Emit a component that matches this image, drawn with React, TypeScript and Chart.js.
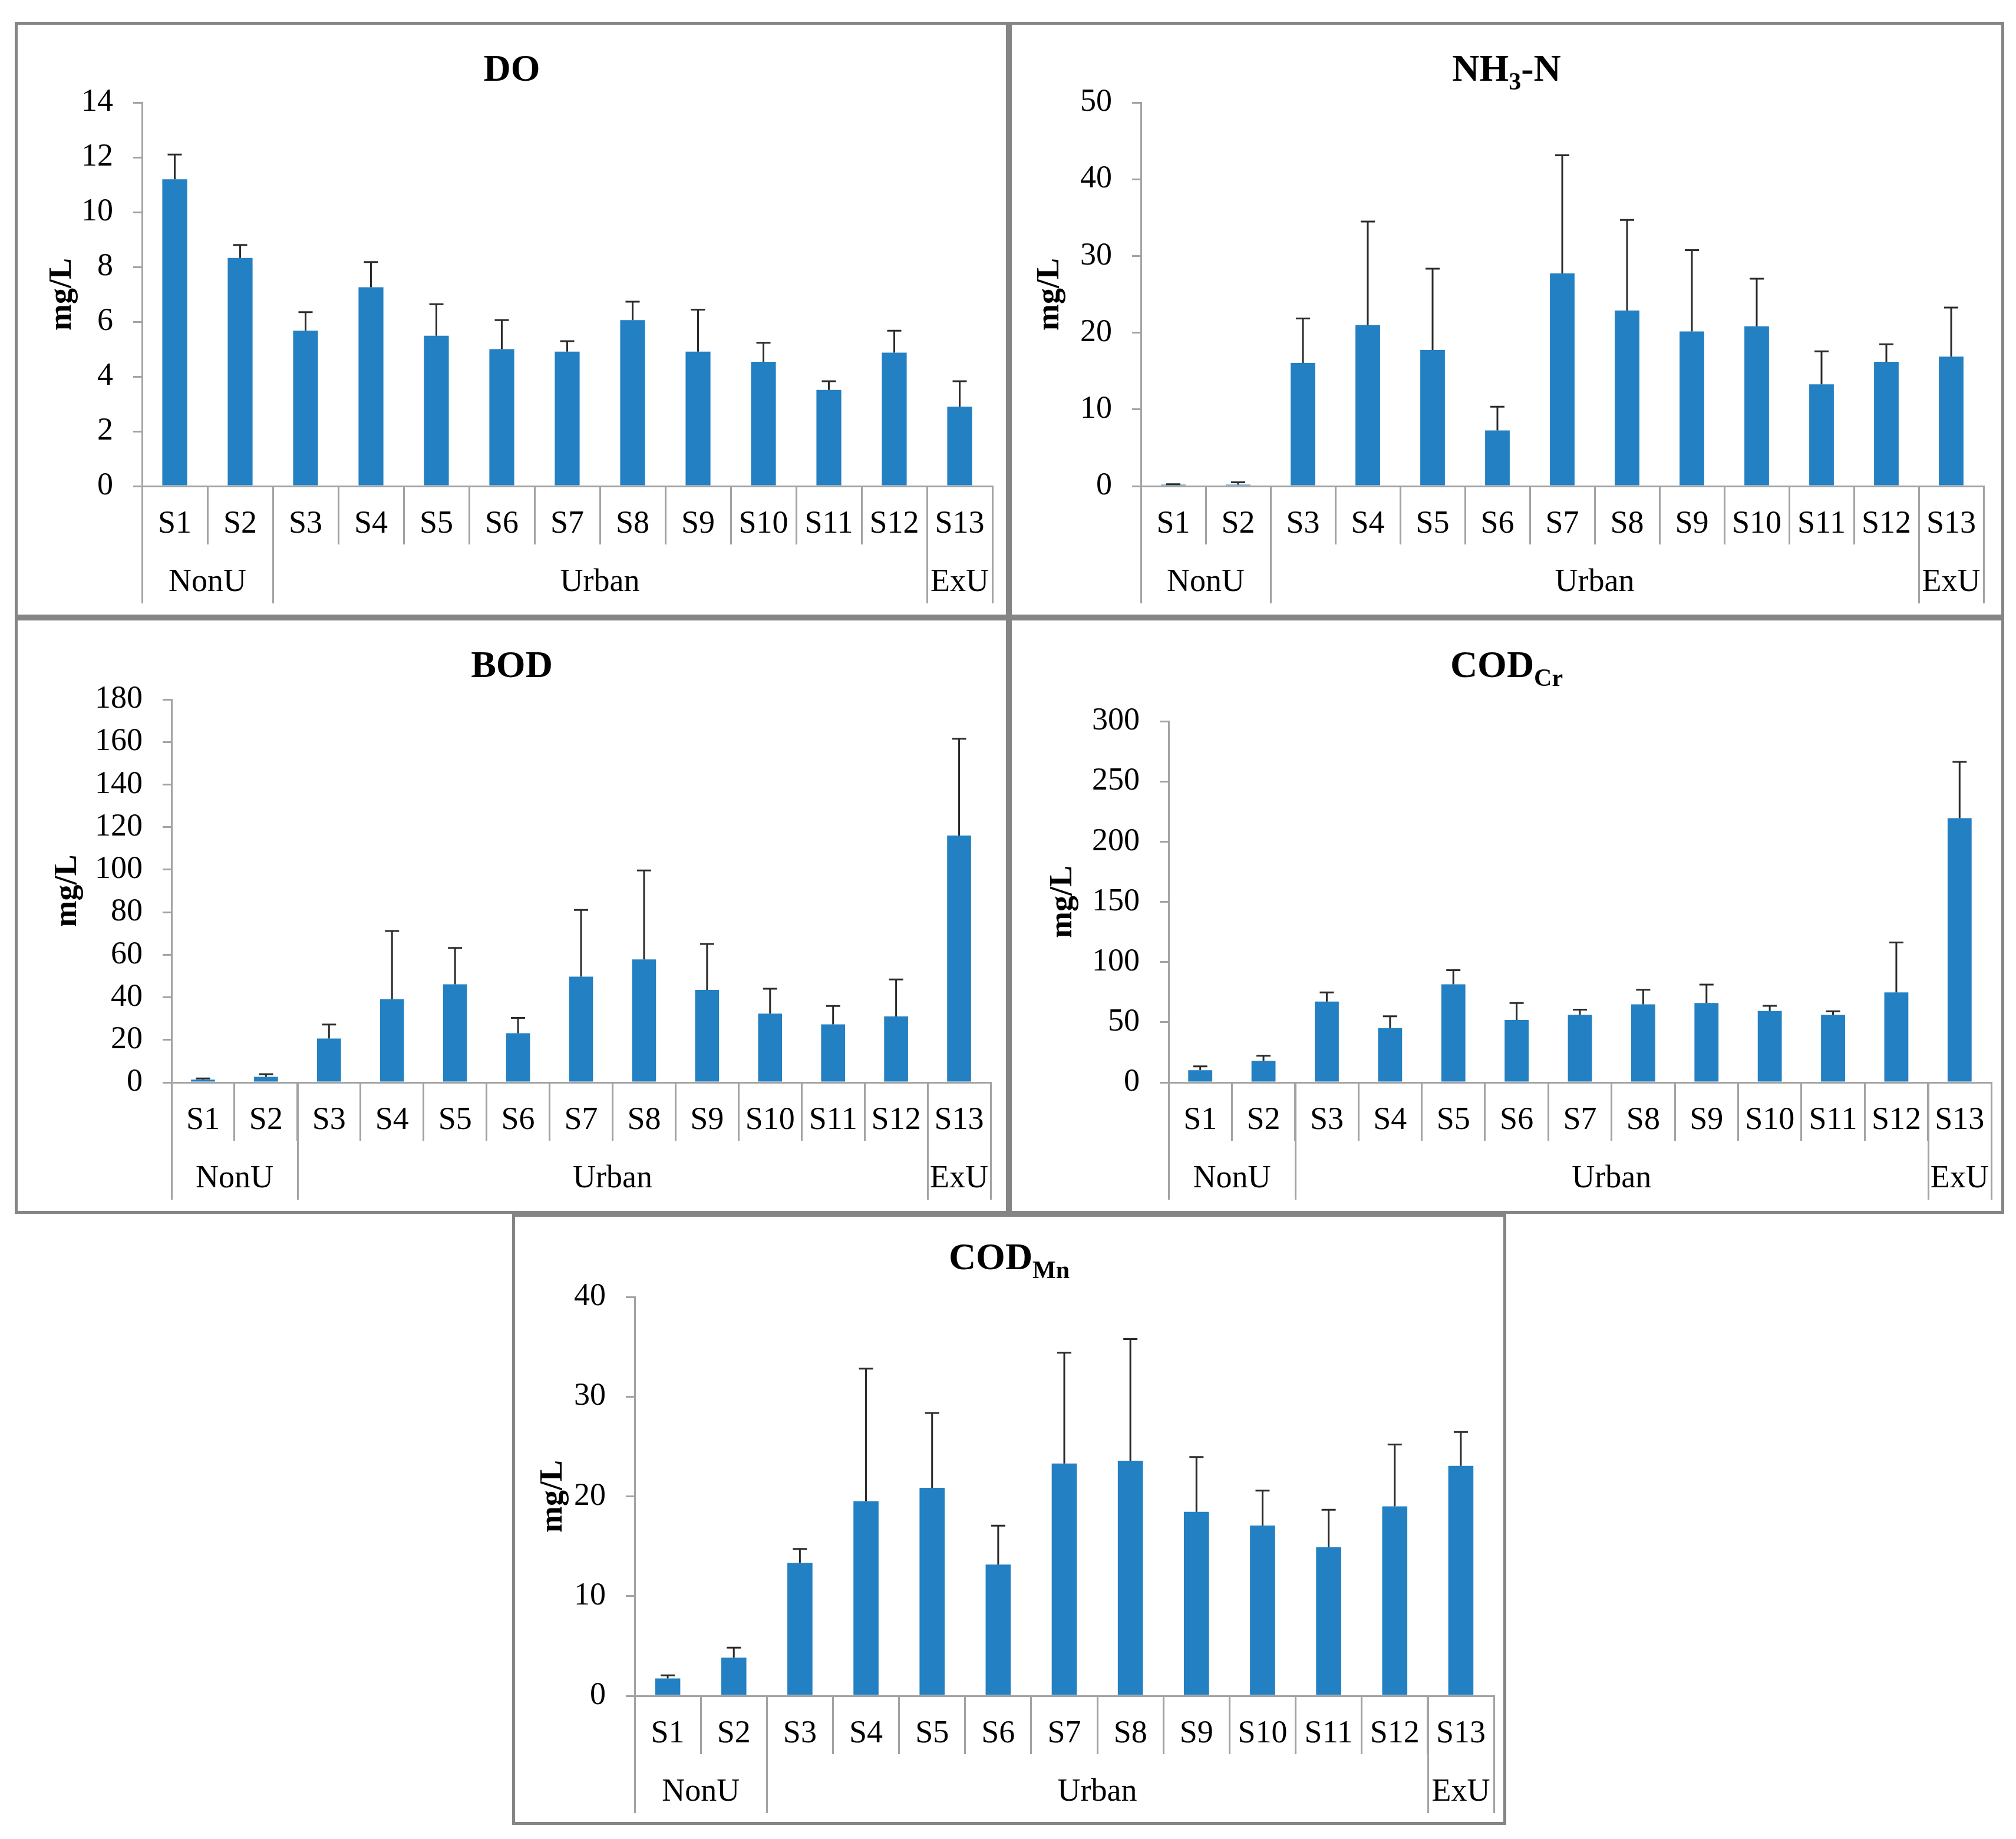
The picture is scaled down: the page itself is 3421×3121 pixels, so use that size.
import React, { useEffect, useRef } from 'react';
import { Chart, registerables } from 'chart.js';

Chart.register(...registerables);

// ---------------- DATA ----------------
const sites = ['S1', 'S2', 'S3', 'S4', 'S5', 'S6', 'S7', 'S8', 'S9', 'S10', 'S11', 'S12', 'S13'];
const zoneNames = ['NonU', 'Urban', 'ExU'];
const zoneSizes = [2, 10, 1];

const doMean = [11.2, 8.33, 5.67, 7.26, 5.49, 5.0, 4.91, 6.06, 4.91, 4.54, 3.51, 4.87, 2.9];
const doSd = [0.9, 0.47, 0.68, 0.92, 1.15, 1.06, 0.38, 0.67, 1.53, 0.69, 0.32, 0.8, 0.93];

const nh3Mean = [0.2, 0.2, 16.05, 20.99, 17.75, 7.25, 27.73, 22.89, 20.16, 20.83, 13.27, 16.2, 16.87];
const nh3Sd = [0.05, 0.3, 5.8, 13.5, 10.6, 3.1, 15.4, 11.8, 10.6, 6.2, 4.3, 2.3, 6.4];

const bodMean = [1.3, 2.6, 20.6, 39.1, 46.1, 23.1, 49.7, 57.8, 43.5, 32.3, 27.3, 31.0, 116.0];
const bodSd = [0.6, 1.3, 6.6, 32.1, 17.1, 7.2, 31.4, 41.8, 21.6, 11.7, 8.6, 17.4, 45.5];

const codCrMean = [10.1, 17.9, 67.2, 45.1, 81.5, 51.9, 56.2, 64.9, 65.9, 59.4, 56.2, 74.7, 219.5];
const codCrSd = [3.2, 4.2, 7.5, 9.8, 11.7, 14.0, 4.2, 12.0, 15.3, 4.2, 2.9, 41.5, 46.7];

const codMnMean = [1.75, 3.83, 13.32, 19.51, 20.86, 13.16, 23.3, 23.58, 18.45, 17.07, 14.9, 19.0, 23.06];
const codMnSd = [0.3, 1.0, 1.4, 13.3, 7.5, 3.9, 11.1, 12.2, 5.5, 3.5, 3.75, 6.2, 3.4];

// axis ranges [max, step]
const doAxis = [14, 2];
const nh3Axis = [50, 10];
const bodAxis = [180, 20];
const codCrAxis = [300, 50];
const codMnAxis = [40, 10];

// titles: [text, isSubscript]
const doTitle: [string, boolean][] = [['DO', false]];
const nh3Title: [string, boolean][] = [['NH', false], ['3', true], ['-N', false]];
const bodTitle: [string, boolean][] = [['BOD', false]];
const codCrTitle: [string, boolean][] = [['COD', false], ['Cr', true]];
const codMnTitle: [string, boolean][] = [['COD', false], ['Mn', true]];

const yTitleText = 'mg/L';

// ---------------- STYLE / LAYOUT ----------------
const FONT = '"Liberation Serif", "Times New Roman", serif';
const AXIS = '#a3a3a3';
const BAR = '#2380c2';
const ERR = '#2b2b2b';
const FRAME = '#858585';
const TICK_SIZE = 54;
const CAT_LINE = 99;
const ZONE_LINE = 199;
const CAT_LABEL_Y = 65;
const ZONE_LABEL_Y = 164;

type PanelCfg = {
  left: number; top: number; width: number; height: number;
  area: { l: number; t: number; r: number; b: number };
  titleY: number; yTitleX: number;
  title: [string, boolean][];
  mean: number[]; sd: number[]; axis: number[];
};

const panels: PanelCfg[] = [
  { left: 25, top: 37, width: 1687, height: 1011, area: { l: 211, t: 132, r: 1654, b: 783 }, titleY: 95, yTitleX: 76, title: doTitle, mean: doMean, sd: doSd, axis: doAxis },
  { left: 1712, top: 37, width: 1689, height: 1011, area: { l: 219, t: 132, r: 1649, b: 783 }, titleY: 95, yTitleX: 65, title: nh3Title, mean: nh3Mean, sd: nh3Sd, axis: nh3Axis },
  { left: 25, top: 1048, width: 1687, height: 1012, area: { l: 261, t: 134, r: 1651, b: 784 }, titleY: 96, yTitleX: 85, title: bodTitle, mean: bodMean, sd: bodSd, axis: bodAxis },
  { left: 1712, top: 1048, width: 1689, height: 1012, area: { l: 266, t: 171, r: 1662, b: 784 }, titleY: 96, yTitleX: 87, title: codCrTitle, mean: codCrMean, sd: codCrSd, axis: codCrAxis },
  { left: 869, top: 2060, width: 1687, height: 1037, area: { l: 203, t: 136, r: 1661, b: 813 }, titleY: 89, yTitleX: 65, title: codMnTitle, mean: codMnMean, sd: codMnSd, axis: codMnAxis },
];

function Panel({ p }: { p: PanelCfg }) {
  const ref = useRef<HTMLCanvasElement>(null);
  const cw = p.width - 10;
  const ch = p.height - 10;

  useEffect(() => {
    const titlePlugin = {
      id: 'subTitle',
      afterDraw(chart: any) {
        const ctx = chart.ctx;
        ctx.save();
        const mainFont = `bold 64px ${FONT}`;
        const subFont = `bold 42px ${FONT}`;
        let total = 0;
        const widths = p.title.map(([t, s]) => {
          ctx.font = s ? subFont : mainFont;
          const w = ctx.measureText(t).width;
          total += w;
          return w;
        });
        let x = chart.width / 2 - total / 2;
        ctx.fillStyle = '#000';
        ctx.textBaseline = 'alphabetic';
        ctx.textAlign = 'left';
        p.title.forEach(([t, s], i) => {
          ctx.font = s ? subFont : mainFont;
          ctx.fillText(t, x, p.titleY + (s ? 15 : 0));
          x += widths[i];
        });
        ctx.restore();
      },
    };

    const errPlugin = {
      id: 'errBars',
      afterDatasetsDraw(chart: any) {
        const ctx = chart.ctx;
        const yScale = chart.scales.y;
        const meta = chart.getDatasetMeta(0);
        ctx.save();
        ctx.strokeStyle = ERR;
        ctx.lineWidth = 3;
        meta.data.forEach((bar: any, i: number) => {
          const top = yScale.getPixelForValue(p.mean[i] + p.sd[i]);
          ctx.beginPath();
          ctx.moveTo(bar.x, bar.y);
          ctx.lineTo(bar.x, top);
          ctx.moveTo(bar.x - 12, top);
          ctx.lineTo(bar.x + 12, top);
          ctx.stroke();
        });
        ctx.restore();
      },
    };

    const zonePlugin = {
      id: 'zones',
      afterDraw(chart: any) {
        const ctx = chart.ctx;
        const xs = chart.scales.x;
        const bottom = chart.chartArea.bottom;
        ctx.save();
        ctx.strokeStyle = AXIS;
        ctx.lineWidth = 3;
        let idx = 0;
        const bounds = [-0.5];
        zoneSizes.forEach((n) => { idx += n; bounds.push(idx - 0.5); });
        bounds.forEach((b) => {
          const px = Math.round(xs.getPixelForValue(b)) + 0.5;
          ctx.beginPath();
          ctx.moveTo(px, bottom);
          ctx.lineTo(px, bottom + ZONE_LINE);
          ctx.stroke();
        });
        ctx.fillStyle = '#000';
        ctx.font = `${TICK_SIZE}px ${FONT}`;
        ctx.textAlign = 'center';
        ctx.textBaseline = 'middle';
        zoneNames.forEach((name, i) => {
          const a = xs.getPixelForValue(bounds[i]);
          const b = xs.getPixelForValue(bounds[i + 1]);
          ctx.fillText(name, (a + b) / 2, bottom + ZONE_LABEL_Y);
        });
        ctx.restore();
      },
    };

    const chart = new Chart(ref.current as HTMLCanvasElement, {
      type: 'bar',
      data: {
        labels: sites,
        datasets: [
          {
            data: p.mean,
            backgroundColor: BAR,
            borderWidth: 0,
            barPercentage: 0.38,
            categoryPercentage: 1,
          },
        ],
      },
      options: {
        animation: false,
        responsive: false,
        devicePixelRatio: 1,
        layout: { padding: { left: 0, top: p.area.t, right: cw - p.area.r, bottom: 0 } },
        plugins: {
          legend: { display: false },
          tooltip: { enabled: false },
          title: { display: false },
        },
        scales: {
          x: {
            type: 'category',
            offset: true,
            grid: {
              display: true,
              offset: true,
              drawOnChartArea: false,
              drawTicks: true,
              tickLength: CAT_LINE,
              color: AXIS,
              lineWidth: 3,
            },
            border: { display: true, color: AXIS, width: 3 },
            ticks: {
              autoSkip: false,
              maxRotation: 0,
              minRotation: 0,
              padding: CAT_LABEL_Y - CAT_LINE - (TICK_SIZE * 1.2) / 2,
              color: '#000',
              font: { family: FONT, size: TICK_SIZE },
            },
            afterFit: (s: any) => { s.height = ch - p.area.b; },
          },
          y: {
            min: 0,
            max: p.axis[0],
            grid: {
              display: true,
              drawOnChartArea: false,
              drawTicks: true,
              tickLength: 15,
              color: AXIS,
              lineWidth: 3,
            },
            border: { display: true, color: AXIS, width: 3 },
            ticks: {
              stepSize: p.axis[1],
              padding: 34,
              color: '#000',
              font: { family: FONT, size: TICK_SIZE },
            },
            title: {
              display: true,
              text: yTitleText,
              color: '#000',
              font: { family: FONT, size: TICK_SIZE, weight: 'bold' },
              padding: { top: p.yTitleX - (TICK_SIZE * 1.2) / 2, bottom: 0 },
            },
            afterFit: (s: any) => { s.width = p.area.l; },
          },
        },
      } as any,
      plugins: [titlePlugin, errPlugin, zonePlugin],
    });
    return () => chart.destroy();
  }, []);

  return (
    <div
      style={{
        position: 'absolute',
        left: p.left,
        top: p.top,
        width: p.width,
        height: p.height,
        border: `5px solid ${FRAME}`,
        boxSizing: 'border-box',
        background: '#fff',
      }}
    >
      <canvas ref={ref} width={cw} height={ch} style={{ display: 'block', width: cw, height: ch }} />
    </div>
  );
}

export default function App() {
  return (
    <div style={{ position: 'absolute', left: 0, top: 0, width: 3421, height: 3121, background: '#fff', overflow: 'hidden' }}>
      {panels.map((p, i) => (
        <Panel key={i} p={p} />
      ))}
    </div>
  );
}
